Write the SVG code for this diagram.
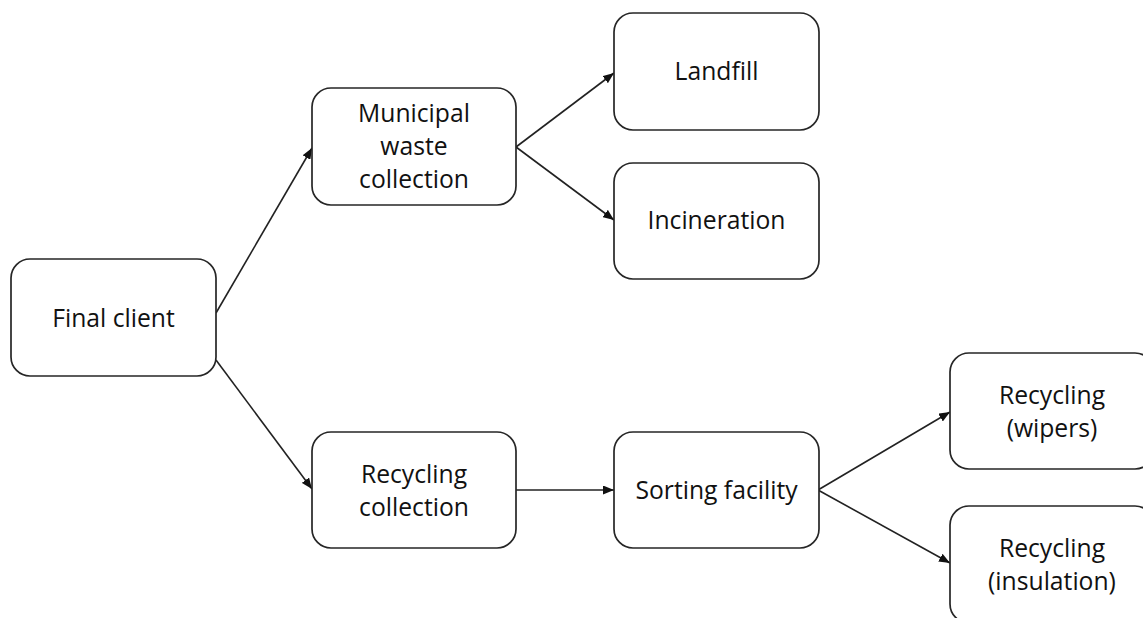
<svg xmlns="http://www.w3.org/2000/svg" width="1143" height="618" viewBox="0 0 1143 618">
  <style>
    .box { fill: #ffffff; stroke: #262626; stroke-width: 1.7; }
    .label { font-family: "Open Sans", "Liberation Sans", sans-serif; font-size: 24.7px; fill: #111111; text-anchor: middle; }
    .edge { stroke: #222222; stroke-width: 1.6; fill: none; marker-end: url(#arrow); }
  </style>
  <defs>
    <marker id="arrow" viewBox="0 0 11 9" refX="11" refY="4.5" markerWidth="11" markerHeight="9" markerUnits="userSpaceOnUse" orient="auto">
      <path d="M0,0 L11,4.5 L0,9 Z" fill="#111111"/>
    </marker>
  </defs>
  <rect width="1143" height="618" fill="#ffffff"/>

  <!-- connectors -->
  <g id="connectors">
    <line class="edge" x1="216" y1="313" x2="312" y2="148"/>
    <line class="edge" x1="216" y1="360" x2="312" y2="489"/>
    <line class="edge" x1="516" y1="147" x2="614" y2="73"/>
    <line class="edge" x1="516" y1="147" x2="614" y2="220"/>
    <line class="edge" x1="516" y1="490" x2="614" y2="490"/>
    <line class="edge" x1="818" y1="490" x2="950" y2="412"/>
    <line class="edge" x1="818" y1="490" x2="950" y2="563"/>
  </g>

  <!-- nodes -->
  <g id="final-client">
    <rect class="box" x="11" y="259" width="205" height="117" rx="19"/>
    <text class="label" x="113.5" y="327">Final client</text>
  </g>
  <g id="municipal-waste">
    <rect class="box" x="312" y="88" width="204" height="117" rx="19"/>
    <text class="label" x="414" y="122">Municipal</text>
    <text class="label" x="414" y="155">waste</text>
    <text class="label" x="414" y="188">collection</text>
  </g>
  <g id="landfill">
    <rect class="box" x="614" y="13" width="205" height="117" rx="19"/>
    <text class="label" x="716.5" y="80">Landfill</text>
  </g>
  <g id="incineration">
    <rect class="box" x="614" y="163" width="205" height="116" rx="19"/>
    <text class="label" x="716.5" y="229">Incineration</text>
  </g>
  <g id="recycling-collection">
    <rect class="box" x="312" y="432" width="204" height="116" rx="19"/>
    <text class="label" x="414" y="483">Recycling</text>
    <text class="label" x="414" y="516">collection</text>
  </g>
  <g id="sorting-facility">
    <rect class="box" x="614" y="432" width="205" height="116" rx="19"/>
    <text class="label" x="716.5" y="499">Sorting facility</text>
  </g>
  <g id="recycling-wipers">
    <rect class="box" x="950" y="353" width="204" height="116" rx="19"/>
    <text class="label" x="1052" y="404">Recycling</text>
    <text class="label" x="1052" y="437">(wipers)</text>
  </g>
  <g id="recycling-insulation">
    <rect class="box" x="950" y="506" width="204" height="117" rx="19"/>
    <text class="label" x="1052" y="557">Recycling</text>
    <text class="label" x="1052" y="590">(insulation)</text>
  </g>
</svg>
